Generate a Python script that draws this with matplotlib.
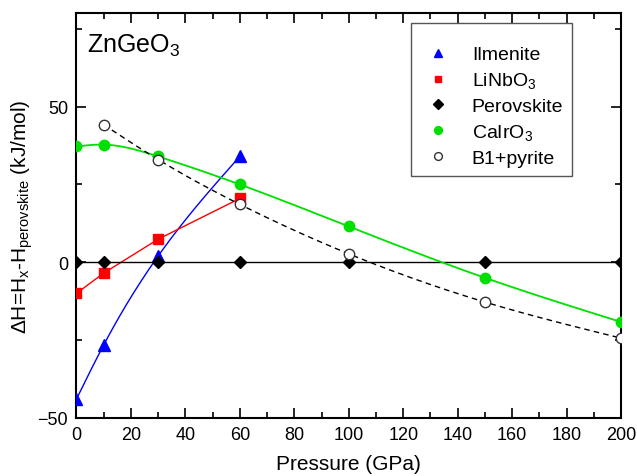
import numpy as np
import matplotlib.pyplot as plt

plt.rcParams['font.family'] = ['Liberation Sans', 'DejaVu Sans']

p_ilm = [0, 10, 30, 60]
h_ilm = [-44.0, -26.6, 2.0, 34.0]
p_lin = [0, 10, 30, 60]
h_lin = [-10.0, -3.5, 7.4, 20.5]
p_per = [0, 10, 30, 60, 100, 150, 200]
h_per = [0, 0, 0, 0, 0, 0, 0]
p_cai = [0, 10, 30, 60, 100, 150, 200]
h_cai = [37.2, 37.8, 34.0, 25.0, 11.5, -5.0, -19.2]
p_b1 = [10, 30, 60, 100, 150, 200]
h_b1 = [44.2, 33.0, 18.6, 2.7, -12.8, -24.4]


def spline(x, y, n=200):
    # natural cubic spline, only for drawing the smooth connecting line
    x = np.asarray(x, float); y = np.asarray(y, float)
    k = len(x); h = np.diff(x)
    A = np.zeros((k, k)); b = np.zeros(k)
    A[0, 0] = A[-1, -1] = 1
    for i in range(1, k - 1):
        A[i, i - 1] = h[i - 1]; A[i, i] = 2 * (h[i - 1] + h[i]); A[i, i + 1] = h[i]
        b[i] = 6 * ((y[i + 1] - y[i]) / h[i] - (y[i] - y[i - 1]) / h[i - 1])
    m = np.linalg.solve(A, b)
    xs = np.linspace(x[0], x[-1], n)
    j = np.clip(np.searchsorted(x, xs) - 1, 0, k - 2)
    t = xs - x[j]; hh = h[j]
    ys = (m[j] * (x[j + 1] - xs) ** 3 / (6 * hh) + m[j + 1] * t ** 3 / (6 * hh)
          + (y[j] / hh - m[j] * hh / 6) * (x[j + 1] - xs) + (y[j + 1] / hh - m[j + 1] * hh / 6) * t)
    return xs, ys


fig, ax = plt.subplots(figsize=(6.37, 4.77), dpi=100)
fig.subplots_adjust(left=0.12, right=0.975, top=0.97, bottom=0.122)

ax.plot(*spline(p_ilm, h_ilm), color='blue', lw=1)
ax.plot(p_lin, h_lin, color='red', lw=1)
ax.plot(p_per, h_per, color='black', lw=1)
ax.plot(*spline(p_cai, h_cai), color='#00e000', lw=1.3)
ax.plot(*spline(p_b1, h_b1), color='black', lw=1, ls=(0, (4, 3)))

ax.plot(p_ilm, h_ilm, '^', color='blue', ms=8, ls='none', label='Ilmenite', zorder=5)
ax.plot(p_lin, h_lin, 's', color='red', ms=6.5, ls='none', label='LiNbO$_\\mathregular{3}$', zorder=5)
ax.plot(p_per, h_per, 'D', color='black', ms=6.5, ls='none', label='Perovskite', zorder=5)
ax.plot(p_cai, h_cai, 'o', color='#00e000', ms=7.5, ls='none', label='CaIrO$_\\mathregular{3}$', zorder=5)
ax.plot(p_b1, h_b1, 'o', mfc='white', mec='#333333', ms=7.5, mew=1, ls='none', label='B1+pyrite', zorder=5)

ax.set_xlim(0, 200)
ax.set_ylim(-50, 80)
ax.set_xticks(np.arange(0, 201, 20))
ax.set_xticks(np.arange(0, 201, 10), minor=True)
ax.set_yticks([-50, 0, 50])
ax.set_yticks([-25, 25, 75], minor=True)
ax.tick_params(which='both', direction='in', top=True, right=True, labelsize=13, width=1.2, pad=6)
ax.tick_params(which='major', length=7)
ax.tick_params(which='minor', length=4)
for s in ax.spines.values():
    s.set_linewidth(1.5)

ax.set_xlabel('Pressure (GPa)', fontsize=15, labelpad=8)
ax.set_ylabel('ΔH=H$_\\mathregular{x}$-H$_\\mathregular{perovskite}$ (kJ/mol)', fontsize=15, labelpad=2)
ax.text(0.02, 0.955, 'ZnGeO$_\\mathregular{3}$', transform=ax.transAxes, fontsize=18, va='top')

leg = ax.legend(loc='upper right', bbox_to_anchor=(0.91, 0.976), fontsize=14, markerscale=0.75,
                handletextpad=0.8, labelspacing=0.36, borderpad=0.45, borderaxespad=0, fancybox=False,
                edgecolor='#555555', framealpha=1, handlelength=1.9, title=' ', title_fontsize=6)
leg.get_frame().set_linewidth(1)

fig.savefig('out.png', dpi=100)
